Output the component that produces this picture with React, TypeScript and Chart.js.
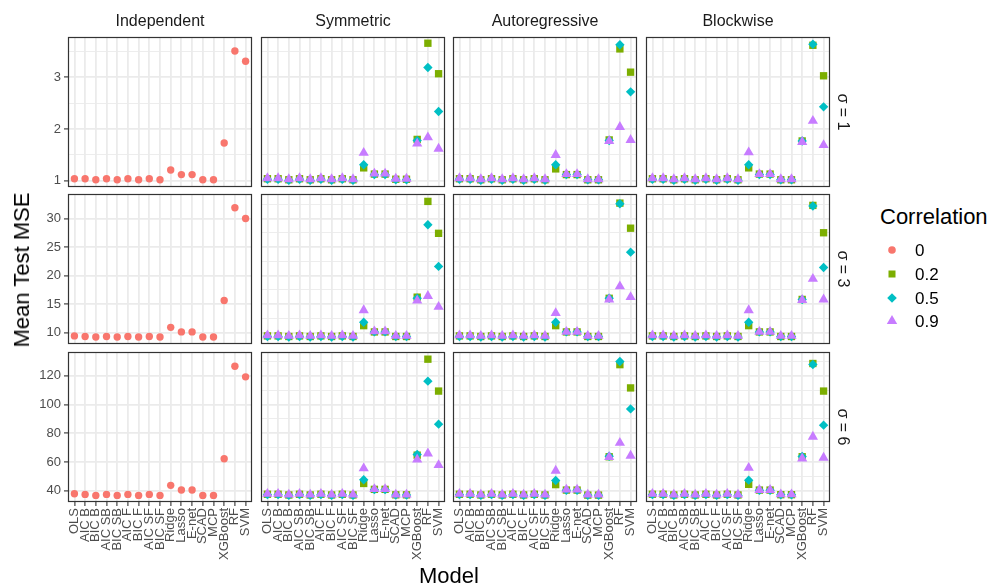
import React, { useEffect, useRef } from 'react';
import { Chart, registerables } from 'chart.js';

Chart.register(...registerables);

// ---------- categories / labels ----------
const models = ['OLS', 'AIC B', 'BIC B', 'AIC SB', 'BIC SB', 'AIC F', 'BIC F', 'AIC SF', 'BIC SF', 'Ridge', 'Lasso', 'E-net', 'SCAD', 'MCP', 'XGBoost', 'RF', 'SVM'];
const structures = ['Independent', 'Symmetric', 'Autoregressive', 'Blockwise'];
const sigmaLabels = ['σ = 1', 'σ = 3', 'σ = 6'];
const correlationLevels = ['0', '0.2', '0.5', '0.9'];

// ---------- y-axis ticks per row ----------
const yMajorS1 = [1, 2, 3];
const yMinorS1 = [1.5, 2.5, 3.5];
const yRangeS1 = [0.88, 3.78];
const yMajorS3 = [10, 15, 20, 25, 30];
const yMinorS3 = [12.5, 17.5, 22.5, 27.5, 32.5];
const yRangeS3 = [7.98, 34.3];
const yMajorS6 = [40, 60, 80, 100, 120];
const yMinorS6 = [50, 70, 90, 110, 130];
const yRangeS6 = [32.2, 136.6];

// ---------- sigma = 1 ----------
const indepS1 = [1.04, 1.04, 1.02, 1.04, 1.02, 1.04, 1.02, 1.04, 1.02, 1.21, 1.12, 1.12, 1.02, 1.02, 1.73, 3.51, 3.31];
const symS1c02 = [1.04, 1.04, 1.02, 1.04, 1.02, 1.04, 1.02, 1.04, 1.02, 1.25, 1.13, 1.13, 1.03, 1.03, 1.80, 3.66, 3.07];
const symS1c05 = [1.03, 1.03, 1.01, 1.03, 1.01, 1.03, 1.01, 1.03, 1.01, 1.31, 1.12, 1.12, 1.02, 1.02, 1.78, 3.19, 2.34];
const symS1c09 = [1.05, 1.05, 1.03, 1.05, 1.03, 1.05, 1.03, 1.05, 1.03, 1.54, 1.14, 1.14, 1.04, 1.04, 1.72, 1.84, 1.62];
const arS1c02 = [1.04, 1.04, 1.02, 1.04, 1.02, 1.04, 1.02, 1.04, 1.02, 1.23, 1.12, 1.12, 1.02, 1.02, 1.79, 3.55, 3.10];
const arS1c05 = [1.03, 1.03, 1.01, 1.03, 1.01, 1.03, 1.01, 1.03, 1.01, 1.31, 1.12, 1.12, 1.02, 1.02, 1.78, 3.63, 2.72];
const arS1c09 = [1.05, 1.05, 1.03, 1.05, 1.03, 1.05, 1.03, 1.05, 1.03, 1.50, 1.13, 1.13, 1.03, 1.03, 1.77, 2.04, 1.79];
const blkS1c02 = [1.04, 1.04, 1.02, 1.04, 1.02, 1.04, 1.02, 1.04, 1.02, 1.25, 1.13, 1.13, 1.02, 1.02, 1.77, 3.62, 3.03];
const blkS1c05 = [1.03, 1.03, 1.01, 1.03, 1.01, 1.03, 1.01, 1.03, 1.01, 1.31, 1.12, 1.12, 1.02, 1.02, 1.77, 3.64, 2.43];
const blkS1c09 = [1.05, 1.05, 1.03, 1.05, 1.03, 1.05, 1.03, 1.05, 1.03, 1.55, 1.13, 1.13, 1.03, 1.03, 1.75, 2.16, 1.69];

// ---------- sigma = 3 ----------
const indepS3 = [9.4, 9.3, 9.2, 9.3, 9.2, 9.3, 9.2, 9.3, 9.2, 10.9, 10.1, 10.1, 9.2, 9.2, 15.6, 31.9, 30.0];
const symS3c02 = [9.4, 9.4, 9.3, 9.4, 9.3, 9.4, 9.3, 9.4, 9.3, 11.2, 10.1, 10.1, 9.3, 9.3, 16.2, 33.0, 27.4];
const symS3c05 = [9.3, 9.3, 9.2, 9.3, 9.2, 9.3, 9.2, 9.3, 9.2, 11.8, 10.1, 10.1, 9.3, 9.3, 16.0, 28.9, 21.6];
const symS3c09 = [9.5, 9.5, 9.4, 9.5, 9.4, 9.5, 9.4, 9.5, 9.4, 13.9, 10.2, 10.2, 9.4, 9.4, 15.6, 16.4, 14.5];
const arS3c02 = [9.4, 9.4, 9.3, 9.4, 9.3, 9.4, 9.3, 9.4, 9.3, 11.2, 10.1, 10.1, 9.3, 9.3, 16.0, 32.7, 28.3];
const arS3c05 = [9.3, 9.3, 9.2, 9.3, 9.2, 9.3, 9.2, 9.3, 9.2, 11.8, 10.1, 10.1, 9.3, 9.3, 16.0, 32.6, 24.1];
const arS3c09 = [9.5, 9.5, 9.4, 9.5, 9.4, 9.5, 9.4, 9.5, 9.4, 13.4, 10.1, 10.1, 9.4, 9.4, 15.8, 18.1, 16.2];
const blkS3c02 = [9.4, 9.4, 9.3, 9.4, 9.3, 9.4, 9.3, 9.4, 9.3, 11.2, 10.1, 10.1, 9.3, 9.3, 15.8, 32.3, 27.5];
const blkS3c05 = [9.3, 9.3, 9.2, 9.3, 9.2, 9.3, 9.2, 9.3, 9.2, 11.8, 10.1, 10.1, 9.3, 9.3, 15.8, 32.2, 21.4];
const blkS3c09 = [9.5, 9.5, 9.4, 9.5, 9.4, 9.5, 9.4, 9.5, 9.4, 13.9, 10.1, 10.1, 9.4, 9.4, 15.7, 19.4, 15.8];

// ---------- sigma = 6 ----------
const indepS6 = [37.9, 37.5, 36.8, 37.5, 36.8, 37.5, 36.8, 37.5, 36.8, 43.8, 40.5, 40.5, 36.8, 36.8, 62.3, 126.7, 119.3];
const symS6c02 = [37.6, 37.6, 37.1, 37.6, 37.1, 37.6, 37.1, 37.6, 37.1, 45.1, 41.0, 41.0, 37.2, 37.2, 64.8, 131.6, 109.4];
const symS6c05 = [37.3, 37.3, 36.8, 37.3, 36.8, 37.3, 36.8, 37.3, 36.8, 47.7, 40.8, 40.8, 37.0, 37.0, 65.3, 116.3, 86.4];
const symS6c09 = [37.9, 37.9, 37.4, 37.9, 37.4, 37.9, 37.4, 37.9, 37.4, 55.6, 41.2, 41.2, 37.4, 37.4, 61.8, 66.0, 57.9];
const arS6c02 = [37.6, 37.6, 37.1, 37.6, 37.1, 37.6, 37.1, 37.6, 37.1, 44.3, 40.5, 40.5, 37.0, 37.0, 63.7, 127.8, 111.6];
const arS6c05 = [37.3, 37.3, 36.8, 37.3, 36.8, 37.3, 36.8, 37.3, 36.8, 47.2, 40.4, 40.4, 36.9, 36.9, 64.0, 130.0, 97.0];
const arS6c09 = [37.9, 37.9, 37.4, 37.9, 37.4, 37.9, 37.4, 37.9, 37.4, 54.0, 40.8, 40.8, 37.3, 37.3, 63.5, 73.4, 64.4];
const blkS6c02 = [37.6, 37.6, 37.1, 37.6, 37.1, 37.6, 37.1, 37.6, 37.1, 44.5, 40.5, 40.5, 37.3, 37.3, 63.7, 128.6, 109.4];
const blkS6c05 = [37.3, 37.3, 36.8, 37.3, 36.8, 37.3, 36.8, 37.3, 36.8, 47.4, 40.4, 40.4, 37.2, 37.2, 63.9, 127.9, 85.7];
const blkS6c09 = [37.9, 37.9, 37.4, 37.9, 37.4, 37.9, 37.4, 37.9, 37.4, 56.0, 40.6, 40.6, 37.5, 37.5, 62.5, 77.6, 63.0];

// ---------- assembly ----------
type Series = [string, number[]];
const panelSeries: Series[][][] = [
  [
    [['0', indepS1]],
    [['0.2', symS1c02], ['0.5', symS1c05], ['0.9', symS1c09]],
    [['0.2', arS1c02], ['0.5', arS1c05], ['0.9', arS1c09]],
    [['0.2', blkS1c02], ['0.5', blkS1c05], ['0.9', blkS1c09]],
  ],
  [
    [['0', indepS3]],
    [['0.2', symS3c02], ['0.5', symS3c05], ['0.9', symS3c09]],
    [['0.2', arS3c02], ['0.5', arS3c05], ['0.9', arS3c09]],
    [['0.2', blkS3c02], ['0.5', blkS3c05], ['0.9', blkS3c09]],
  ],
  [
    [['0', indepS6]],
    [['0.2', symS6c02], ['0.5', symS6c05], ['0.9', symS6c09]],
    [['0.2', arS6c02], ['0.5', arS6c05], ['0.9', arS6c09]],
    [['0.2', blkS6c02], ['0.5', blkS6c05], ['0.9', blkS6c09]],
  ],
];
const rowAxes = [
  { major: yMajorS1, minor: yMinorS1, range: yRangeS1 },
  { major: yMajorS3, minor: yMinorS3, range: yRangeS3 },
  { major: yMajorS6, minor: yMinorS6, range: yRangeS6 },
];

const levelStyle: Record<string, { color: string; shape: string; radius: number; order: number }> = {
  '0': { color: '#F8766D', shape: 'circle', radius: 3.7, order: 4 },
  '0.2': { color: '#7CAE00', shape: 'rect', radius: 5.2, order: 3 },
  '0.5': { color: '#00BFC4', shape: 'rectRot', radius: 4.7, order: 2 },
  '0.9': { color: '#C77CFF', shape: 'triangle', radius: 5.9, order: 1 },
};

// ---------- layout ----------
const FONT = '"Liberation Sans", Arial, Helvetica, sans-serif';
const colLeft = [68, 261, 453, 646];
const rowTop = [37, 194, 352];
const panelW = 184;
const panelH = 150;

const borderPlugin = {
  id: 'panelBorder',
  afterDatasetsDraw(chart: any) {
    const { ctx, chartArea: a } = chart;
    ctx.save();
    ctx.strokeStyle = '#333333';
    ctx.lineWidth = 1.2;
    ctx.strokeRect(a.left + 0.5, a.top + 0.5, a.right - a.left - 1, a.bottom - a.top - 1);
    ctx.restore();
  },
};

function Panel({ row, col }: { row: number; col: number }) {
  const ref = useRef<HTMLCanvasElement>(null);
  const padL = col === 0 ? 56 : 10;
  const padR = 10;
  const padT = 10;
  const padB = row === 2 ? 92 : 10;
  const w = panelW + padL + padR;
  const h = panelH + padT + padB;
  const left = colLeft[col] - padL;
  const top = rowTop[row] - padT;

  useEffect(() => {
    const axis = rowAxes[row];
    const isMajor = (v: number) => axis.major.includes(v);
    const datasets = panelSeries[row][col].map(([level, values]) => {
      const st = levelStyle[level];
      return {
        label: level,
        data: values.map((y, i) => ({ x: i + 1, y })),
        pointStyle: st.shape,
        pointRadius: st.radius,
        pointBackgroundColor: st.color,
        pointBorderColor: st.color,
        pointBorderWidth: 0,
        showLine: false,
        order: st.order,
        clip: false as any,
      };
    });
    const zeroPad = (s: any) => {
      s.paddingLeft = 0;
      s.paddingRight = 0;
      s.paddingTop = 0;
      s.paddingBottom = 0;
    };
    const chart = new Chart(ref.current as HTMLCanvasElement, {
      type: 'scatter',
      data: { datasets: datasets as any },
      plugins: [borderPlugin],
      options: {
        animation: false,
        responsive: false,
        events: [],
        layout: { padding: { left: 0, right: padR, top: padT, bottom: 0 } },
        plugins: { legend: { display: false }, tooltip: { enabled: false }, title: { display: false } },
        scales: {
          x: {
            type: 'linear',
            min: 0.4,
            max: 17.6,
            afterBuildTicks: (s: any) => {
              s.ticks = models.map((_, i) => ({ value: i + 1 }));
            },
            afterFit: (s: any) => {
              s.height = padB;
              zeroPad(s);
            },
            ticks: {
              display: row === 2,
              autoSkip: false,
              maxRotation: 90,
              minRotation: 90,
              padding: 2,
              color: '#4D4D4D',
              font: { family: FONT, size: 13 },
              callback: (v: any) => models[Math.round(Number(v)) - 1] ?? '',
            },
            grid: {
              color: '#EBEBEB',
              lineWidth: 1.8,
              drawTicks: row === 2,
              tickLength: 4,
              tickColor: '#333333',
              tickWidth: 1.1,
            },
            border: { display: false },
          },
          y: {
            type: 'linear',
            min: axis.range[0],
            max: axis.range[1],
            afterBuildTicks: (s: any) => {
              s.ticks = [...axis.major, ...axis.minor].sort((a, b) => a - b).map((v) => ({ value: v }));
            },
            afterFit: (s: any) => {
              s.width = padL;
              zeroPad(s);
            },
            ticks: {
              display: col === 0,
              padding: 3,
              color: '#4D4D4D',
              font: { family: FONT, size: 13 },
              callback: (v: any) => (isMajor(Number(v)) ? String(v) : ''),
            },
            grid: {
              color: '#EBEBEB',
              lineWidth: (c: any) => (c.tick && isMajor(c.tick.value) ? 1.8 : 0.9),
              drawTicks: col === 0,
              tickLength: 4,
              tickColor: (c: any) => (c.tick && isMajor(c.tick.value) ? '#333333' : 'rgba(0,0,0,0)'),
              tickWidth: 1.1,
            },
            border: { display: false },
          },
        },
      } as any,
    });
    return () => chart.destroy();
  }, [row, col]);

  return (
    <canvas
      ref={ref}
      width={w}
      height={h}
      style={{ position: 'absolute', left, top, width: w, height: h }}
    />
  );
}

function LegendSymbol({ level }: { level: string }) {
  const st = levelStyle[level];
  const c = st.color;
  let shape: React.ReactNode = null;
  if (st.shape === 'circle') shape = <circle cx={8} cy={8} r={3.8} fill={c} />;
  else if (st.shape === 'rect') shape = <rect x={4.5} y={4.5} width={7} height={7} fill={c} />;
  else if (st.shape === 'rectRot') shape = <polygon points="8,3.2 12.8,8 8,12.8 3.2,8" fill={c} />;
  else shape = <polygon points="8,2 13.2,11 2.8,11" fill={c} />;
  return (
    <svg width={16} height={16} style={{ position: 'absolute', left: -8, top: -8 }}>
      {shape}
    </svg>
  );
}

const centerText = (x: number, y: number, rot = 0): React.CSSProperties => ({
  position: 'absolute',
  left: x,
  top: y,
  transform: `translate(-50%, -50%) rotate(${rot}deg)`,
  whiteSpace: 'nowrap',
  lineHeight: 1,
  fontFamily: FONT,
});

export default function App() {
  const cells: React.ReactNode[] = [];
  for (let r = 0; r < 3; r++) for (let c = 0; c < 4; c++) cells.push(<Panel key={`${r}-${c}`} row={r} col={c} />);
  const legendY = [250, 273.5, 298, 321];
  return (
    <div style={{ position: 'absolute', left: 0, top: 0, width: 990, height: 587, background: '#FFFFFF', overflow: 'hidden' }}>
      {cells}
      {structures.map((s, i) => (
        <div key={s} style={{ ...centerText(colLeft[i] + panelW / 2, 21), fontSize: 16, color: '#1A1A1A' }}>{s}</div>
      ))}
      {sigmaLabels.map((s, i) => (
        <div key={s} style={{ ...centerText(843, rowTop[i] + panelH / 2, 90), fontSize: 16, color: '#1A1A1A' }}>{s}</div>
      ))}
      <div style={{ ...centerText(22, 270, -90), fontSize: 22, color: '#000000' }}>Mean Test MSE</div>
      <div style={{ ...centerText(449, 576), fontSize: 22, color: '#000000' }}>Model</div>
      <div style={{ position: 'absolute', left: 880, top: 216.5, transform: 'translateY(-50%)', lineHeight: 1, fontFamily: FONT, fontSize: 22, color: '#000000', whiteSpace: 'nowrap' }}>Correlation</div>
      {correlationLevels.map((lv, i) => (
        <React.Fragment key={lv}>
          <div style={{ position: 'absolute', left: 892, top: legendY[i], width: 0, height: 0 }}>
            <LegendSymbol level={lv} />
          </div>
          <div style={{ position: 'absolute', left: 915, top: legendY[i], transform: 'translateY(-50%)', lineHeight: 1, fontFamily: FONT, fontSize: 17, color: '#000000', whiteSpace: 'nowrap' }}>{lv}</div>
        </React.Fragment>
      ))}
    </div>
  );
}
